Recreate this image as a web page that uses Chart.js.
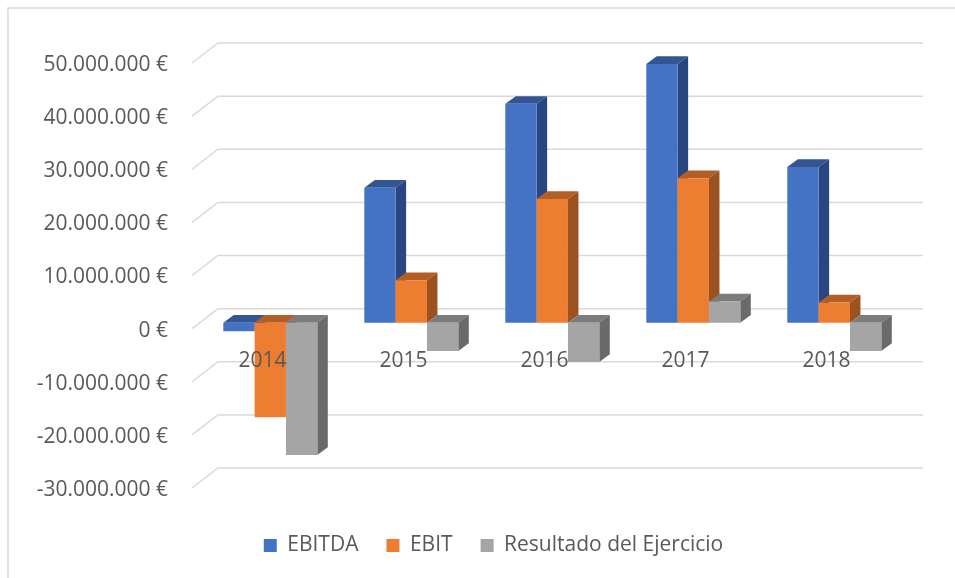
<!DOCTYPE html>
<html>
<head>
<meta charset="utf-8">
<title>EBITDA, EBIT y Resultado</title>
<script src="https://cdn.jsdelivr.net/npm/chart.js@4/dist/chart.umd.min.js"></script>
<style>
  html, body { margin: 0; padding: 0; background: #fff; }
  #wrap { position: relative; width: 955px; height: 578px; }
  /* the source is an enlarged screenshot, so everything is a little soft */
  #chart { filter: blur(0.5px); }
</style>
</head>
<body>
<div id="wrap"><canvas id="chart"></canvas></div>
<script>
const years = ['2014', '2015', '2016', '2017', '2018']
const ebitda = [-1600000, 25400000, 41200000, 48700000, 29300000]
const ebit = [-17800000, 8000000, 23300000, 27200000, 3800000]
const resultado = [-24900000, -5300000, -7400000, 4000000, -5300000]

// front, top and side colours of each series
const blues = ['#4472C4', '#335593', '#284780']
const oranges = ['#ED7D31', '#B25E25', '#9C521F']
const greys = ['#A5A5A5', '#7C7C7C', '#6A6A6A']

const FONT = '"Open Sans", sans-serif'
const TEXT = '#595959'
const GRID = '#D9D9D9'

// how the fake 3D box is laid out, in pixels, measured from the y scale
const FLOOR = { dy: -2 }           // front edge of the floor
const WALL = { dx: 26, dy: -22 }   // back wall
const SLOT = { dx: 7.8, dy: -7.9 } // front of the bars
const BAR = { dx: 10.5, dy: -7.7 } // depth of a bar
const LEGEND_SHIFT = { x: 30, y: 17 }

const frame = {
  id: 'frame',
  beforeDraw(chart) {
    const { ctx, width, height } = chart
    ctx.save()
    ctx.strokeStyle = '#D9D9D9'
    ctx.lineWidth = 1.5
    ctx.beginPath()
    ctx.moveTo(8, height)
    ctx.lineTo(8, 8)
    ctx.lineTo(width, 8)
    ctx.stroke()
    ctx.restore()
  }
}

function face(ctx, color, pts) {
  ctx.fillStyle = color
  ctx.beginPath()
  pts.forEach((p, i) => i ? ctx.lineTo(p[0], p[1]) : ctx.moveTo(p[0], p[1]))
  ctx.closePath()
  ctx.fill()
}

function drawWalls(chart) {
  const { ctx, chartArea, scales } = chart
  ctx.strokeStyle = GRID
  ctx.lineWidth = 1.5
  scales.y.ticks.forEach((tick, i) => {
    const y = scales.y.getPixelForTick(i)
    ctx.beginPath()
    ctx.moveTo(chartArea.left, y + FLOOR.dy)
    ctx.lineTo(chartArea.left + WALL.dx, y + WALL.dy)
    ctx.lineTo(chartArea.right + WALL.dx, y + WALL.dy)
    ctx.stroke()
  })
}

// Chart.js paints the first dataset last, the boxes need left to right
function drawBoxes(chart) {
  const { ctx } = chart
  ctx.translate(SLOT.dx, SLOT.dy)
  chart.data.datasets.forEach((ds, index) => {
    chart.getDatasetMeta(index).data.forEach(bar => {
      const { x, y, base, width } = bar.getProps(['x', 'y', 'base', 'width'])
      const l = x - width / 2
      const r = x + width / 2
      const hi = Math.min(y, base)
      const lo = Math.max(y, base)
      face(ctx, ds.faces[1], [[l, hi], [l + BAR.dx, hi + BAR.dy], [r + BAR.dx, hi + BAR.dy], [r, hi]])
      face(ctx, ds.faces[2], [[r, hi], [r + BAR.dx, hi + BAR.dy], [r + BAR.dx, lo + BAR.dy], [r, lo]])
      bar.draw(ctx)
    })
  })
}

const box3d = {
  id: 'box3d',
  afterLayout(chart) {
    chart.legend.left += LEGEND_SHIFT.x
    chart.legend.right += LEGEND_SHIFT.x
    chart.legend.top += LEGEND_SHIFT.y
    chart.legend.bottom += LEGEND_SHIFT.y
  },
  beforeDatasetsDraw(chart) {
    chart.ctx.save()
    drawWalls(chart)
    drawBoxes(chart)
    chart.ctx.restore()
    return false
  }
}

function euros(value) {
  const sign = value < 0 ? '-' : ''
  return sign + String(Math.abs(value)).replace(/\B(?=(\d{3})+$)/g, '.') + ' €'
}

new Chart(document.getElementById('chart'), {
  type: 'bar',
  data: {
    labels: years,
    datasets: [
      { label: 'EBITDA', data: ebitda, backgroundColor: blues[0], faces: blues },
      { label: 'EBIT', data: ebit, backgroundColor: oranges[0], faces: oranges },
      { label: 'Resultado del Ejercicio', data: resultado, backgroundColor: greys[0], faces: greys }
    ]
  },
  options: {
    responsive: true,
    maintainAspectRatio: false,
    animation: false,
    layout: { padding: { left: 30, right: 58, top: 65, bottom: 29 } },
    datasets: { bar: { barPercentage: 1, categoryPercentage: 2 / 3 } },
    plugins: {
      legend: {
        position: 'bottom',
        labels: {
          color: TEXT,
          font: { family: FONT, size: 21 },
          boxWidth: 13,
          boxHeight: 13,
          padding: 28
        }
      },
      tooltip: { enabled: false }
    },
    scales: {
      x: {
        position: { y: 0 },
        grid: { display: false },
        border: { display: false },
        ticks: {
          color: TEXT,
          font: { family: FONT, size: 21 },
          padding: 10,
          maxRotation: 0,
          z: 1
        }
      },
      y: {
        min: -30000000,
        max: 50000000,
        afterFit: (scale) => { scale.width = 162 },
        grid: { display: false, drawTicks: false },
        border: { display: false },
        ticks: {
          stepSize: 10000000,
          color: TEXT,
          font: { family: FONT, size: 21 },
          padding: 24,
          callback: (value) => euros(value)
        }
      }
    }
  },
  plugins: [frame, box3d]
})
</script>
</body>
</html>
